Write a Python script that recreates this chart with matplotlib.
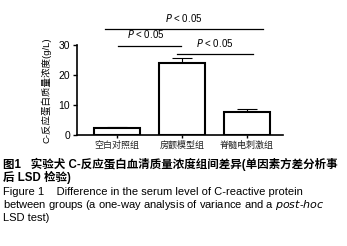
import numpy as np
import matplotlib
matplotlib.use("Agg")
import matplotlib.pyplot as plt

plt.rcParams['font.family'] = ['Liberation Sans', 'Noto Sans CJK SC', 'DejaVu Sans']

groups = ["空白对照组", "房颤模型组", "脊髓电刺激组"]
crp_mean = [2.3, 24.0, 7.8]
crp_err = [0.4, 1.7, 0.8]
yticks = [0, 10, 20, 30]

# significance brackets: (group a, group b, height, label)
sig_pairs = [(0, 2, 35.3, "P < 0.05"), (0, 1, 29.7, "P < 0.05"), (1, 2, 27.0, "P < 0.05")]

fig = plt.figure(figsize=(3.47, 2.46), dpi=100)
ax = fig.add_axes([77 / 347, 111 / 246, 208 / 347, 90 / 246])

x = np.arange(len(groups))
ax.bar(x, crp_mean, width=0.72, color="white", edgecolor="black", linewidth=1.5, zorder=2)
ax.errorbar(x, crp_mean, yerr=[np.zeros(3), crp_err], fmt="none", ecolor="black",
            elinewidth=0.8, capsize=7, capthick=0.8, zorder=1)

ax.set_xlim(-0.615, 2.585)
ax.set_ylim(0, 30)
ax.set_yticks(yticks)
ax.set_xticks(x)
ax.set_xticklabels(groups, fontsize=6.5, family=['Noto Sans CJK SC'], color="#222222")
ax.tick_params(axis="y", labelsize=7.5, length=3, width=1, pad=2)
ax.tick_params(axis="x", length=2, width=1, pad=2)
for s in ["top", "right"]:
    ax.spines[s].set_visible(False)
for s in ["left", "bottom"]:
    ax.spines[s].set_linewidth(1.2)
ax.spines["bottom"].set_bounds(-0.615, 2.55)

ax.set_ylabel("C-反应蛋白质量浓度(g/L)", fontsize=6.8, labelpad=5,
              family=['Liberation Sans', 'Noto Sans CJK SC'])

# brackets
offs = {(0, 2): (-0.185, 0.25), (0, 1): (0.015, -0.015), (1, 2): (-0.08, 0.09)}
text_dx = {(0, 2): 0.0, (0, 1): -0.05, (1, 2): 0.0}
for a, b, h, lab in sig_pairs:
    da, db = offs[(a, b)]
    ax.plot([a + da, b + db], [h, h], color="black", lw=0.9, clip_on=False)
    xm = (a + da + b + db) / 2 + text_dx[(a, b)]
    ax.text(xm, h + 1.8, "$\\it{P}$ < 0.05", ha="center", va="bottom", fontsize=7)

cap_cn = "图1   实验犬 C-反应蛋白血清质量浓度组间差异(单因素方差分析事"
cap_cn2 = "后 LSD 检验)"
cap_en = ["Figure 1    Difference in the serum level of C-reactive protein",
          "between groups (a one-way analysis of variance and a $\\it{post}$-$\\it{hoc}$",
          "LSD test)"]

fig.text(3 / 347, 1 - 164 / 246, cap_cn, fontsize=8.3, fontweight="bold", va="center",
         family=['Liberation Sans', 'Noto Sans CJK SC'])
fig.text(3 / 347, 1 - 177 / 246, cap_cn2, fontsize=8.3, fontweight="bold", va="center",
         family=['Liberation Sans', 'Noto Sans CJK SC'])
for i, line in enumerate(cap_en):
    fig.text(3 / 347, 1 - (192 + 13 * i) / 246, line, fontsize=8, va="center")

fig.savefig("out.png", dpi=100)
